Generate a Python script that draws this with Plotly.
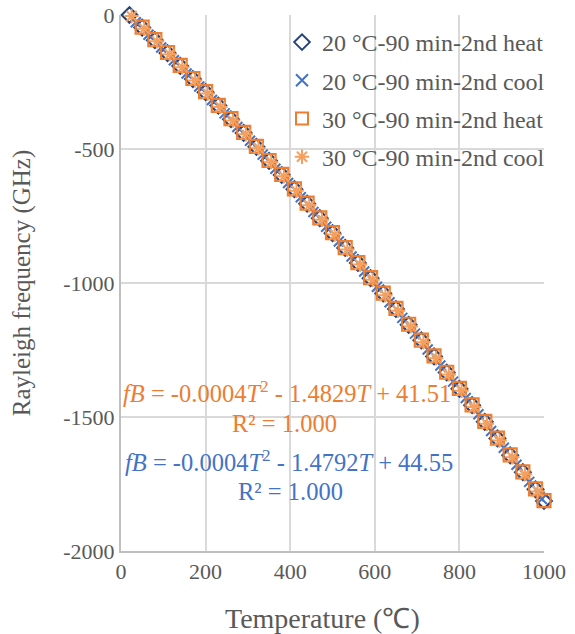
import numpy as np
import plotly.graph_objects as go

# ---- data ----
T_heat = [20, 50, 80, 110, 140, 170, 200, 230, 260, 290, 320, 350, 380, 410, 440, 470, 500,
          530, 560, 590, 620, 650, 680, 710, 740, 770, 800, 830, 860, 890, 920, 950, 980, 1000]
f_20_heat = [0, -47, -94, -142, -190, -239, -288, -338, -389, -440, -492, -544, -597, -650, -704, -758, -814,
             -869, -925, -982, -1039, -1097, -1156, -1214, -1274, -1334, -1395, -1456, -1518, -1580, -1643, -1706, -1770, -1813]
f_30_heat = [2, -45, -92, -140, -188, -237, -286, -337, -387, -438, -490, -543, -595, -649, -702, -757, -812,
             -868, -924, -980, -1038, -1095, -1154, -1213, -1272, -1333, -1393, -1455, -1516, -1579, -1641, -1705, -1768, -1812]

T_cool_20 = [35, 65, 95, 125, 155, 185, 215, 245, 275, 305, 335, 365, 395, 425, 455, 485, 515,
             545, 575, 605, 635, 665, 695, 725, 755, 785, 815, 845, 875, 905, 935, 965, 995]
f_20_cool = [-27, -74, -121, -169, -218, -267, -317, -367, -418, -469, -521, -574, -627, -680, -735, -790, -845,
             -901, -957, -1014, -1072, -1130, -1189, -1248, -1308, -1368, -1429, -1490, -1552, -1615, -1678, -1742, -1806]

T_cool_30 = [25, 55, 85, 115, 145, 175, 205, 235, 265, 295, 325, 355, 385, 415, 445, 475, 505,
             535, 565, 595, 625, 655, 685, 715, 745, 775, 805, 835, 865, 895, 925, 955, 985]
f_30_cool = [-4, -51, -98, -146, -195, -244, -293, -343, -394, -445, -497, -549, -602, -656, -710, -764, -819,
             -875, -931, -988, -1046, -1104, -1162, -1221, -1281, -1341, -1402, -1463, -1525, -1588, -1650, -1714, -1778]

names = ["20 °C-90 min-2nd heat", "20 °C-90 min-2nd cool", "30 °C-90 min-2nd heat", "30 °C-90 min-2nd cool"]

x_ticks = [0, 200, 400, 600, 800, 1000]
y_ticks = [0, -500, -1000, -1500, -2000]

FONT = "Liberation Serif, Times New Roman, serif"
ORANGE = "#ED7D31"
BLUE = "#4472C4"
DKBLUE = "#264478"
GRAY = "#A5A5A5"

fig = go.Figure()

def trend(T, f, color):
    c = np.polyfit(np.array(T, float), np.array(f, float), 2)
    tt = np.linspace(min(T), max(T), 200)
    fig.add_trace(go.Scatter(x=tt, y=np.polyval(c, tt), mode="lines", showlegend=False,
                             line=dict(color=color, width=3, dash="dot"), hoverinfo="skip"))

trend(T_heat + T_cool_30, f_30_heat + f_30_cool, GRAY)
trend(T_heat + T_cool_20, f_20_heat + f_20_cool, "#B0A890")

fig.add_trace(go.Scatter(x=T_heat, y=f_20_heat, mode="markers", name=names[0], legendgroup="a",
                         marker=dict(symbol="diamond-open", size=12, color=DKBLUE, line=dict(width=2.2, color=DKBLUE)),
                         cliponaxis=False))
fig.add_trace(go.Scatter(x=T_cool_20, y=f_20_cool, mode="markers", name=names[1], legendgroup="b",
                         marker=dict(symbol="x-thin-open", size=10, color=BLUE, line=dict(width=2, color=BLUE)),
                         cliponaxis=False))
fig.add_trace(go.Scatter(x=T_heat, y=f_30_heat, mode="markers", name=names[2], legendgroup="c",
                         marker=dict(symbol="square-open", size=13, color=ORANGE, line=dict(width=2.2, color=ORANGE)),
                         cliponaxis=False))
fig.add_trace(go.Scatter(x=T_cool_30, y=f_30_cool, mode="markers", name=names[3], legendgroup="d",
                         marker=dict(symbol="asterisk-open", size=12, color="#F4A060", line=dict(width=2, color="#F4A060")),
                         cliponaxis=False))

ann_font = dict(family=FONT, size=24.5)
fig.add_annotation(xref="paper", yref="paper", x=0.0, y=1 - (392 - 15) / 536, xanchor="left", yanchor="middle",
                   text="<i>f</i><i>B</i> = -0.0004<i>T</i><sup>2</sup> - 1.4829<i>T</i> + 41.51",
                   showarrow=False, font=dict(ann_font, color=ORANGE))
fig.add_annotation(xref="paper", yref="paper", x=(284 - 121) / 423, y=1 - (423 - 15) / 536, xanchor="center", yanchor="middle",
                   text="R² = 1.000", showarrow=False, font=dict(ann_font, color=ORANGE))
fig.add_annotation(xref="paper", yref="paper", x=0.005, y=1 - (461 - 15) / 536, xanchor="left", yanchor="middle",
                   text="<i>f</i><i>B</i> = -0.0004<i>T</i><sup>2</sup> - 1.4792<i>T</i> + 44.55",
                   showarrow=False, font=dict(ann_font, color=BLUE))
fig.add_annotation(xref="paper", yref="paper", x=(290 - 121) / 423, y=1 - (491 - 15) / 536, xanchor="center", yanchor="middle",
                   text="R² = 1.000", showarrow=False, font=dict(ann_font, color=BLUE))

# x-axis title (placed as in the reference, slightly left of centre)
fig.add_annotation(xref="paper", yref="paper", x=(322 - 121) / 423, y=1 - (618 - 15) / 536, xanchor="center", yanchor="middle",
                   text="Temperature (℃)", showarrow=False, font=dict(family=FONT, size=28, color="#595959"))

fig.update_layout(
    width=575, height=634,
    margin=dict(l=121, r=31, t=15, b=83, autoexpand=False),
    paper_bgcolor="white", plot_bgcolor="white",
    font=dict(family=FONT, size=22, color="#595959"),
    showlegend=True,
    legend=dict(x=(282 - 121) / 423, y=1 - (20 - 15) / 536, xanchor="left", yanchor="top",
                bgcolor="rgba(0,0,0,0)", font=dict(family=FONT, size=24, color="#595959"),
                traceorder="grouped", tracegroupgap=4, itemsizing="constant", itemwidth=30),
    xaxis=dict(range=[0, 1000], tickvals=x_ticks, ticktext=[str(v) for v in x_ticks],
               showgrid=True, gridcolor="#D9D9D9", gridwidth=2, zeroline=False, automargin=False,
               showline=True, linecolor="#BFBFBF", linewidth=2, ticks=""),
    yaxis=dict(range=[-2000, 0], tickvals=y_ticks, ticktext=[str(v) for v in y_ticks],
               showgrid=True, gridcolor="#D9D9D9", gridwidth=2, zeroline=False, automargin=False,
               showline=True, linecolor="#BFBFBF", linewidth=2, ticks="",
               title=dict(text="Rayleigh frequency (GHz)", font=dict(size=25), standoff=26)),
)

fig.write_html("out.html")
